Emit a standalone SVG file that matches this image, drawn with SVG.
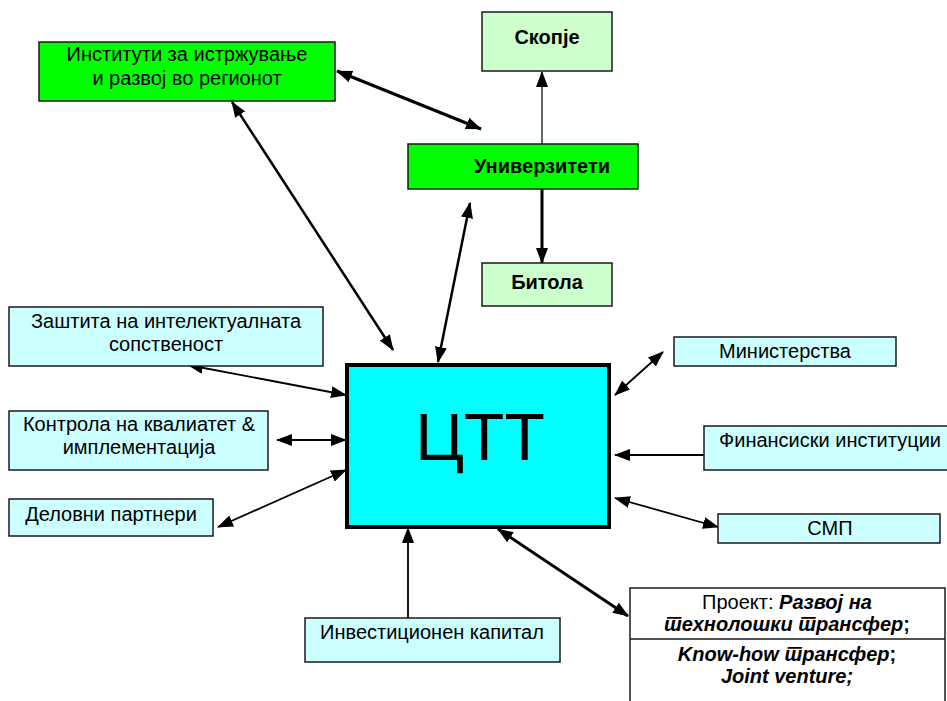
<svg xmlns="http://www.w3.org/2000/svg" width="947" height="701" viewBox="0 0 947 701">
<style>
.b{stroke:#1a1a1a;stroke-width:1.5}
.g{fill:#00ff00}.lg{fill:#ccffcc}.c{fill:#ccffff}
text{font-family:"Liberation Sans",Arial,sans-serif;fill:#000;text-anchor:middle}
.t{font-size:20px}
.bd{font-size:20px;font-weight:bold}
.bi{font-weight:bold;font-style:italic}
.ln{stroke:#000;fill:none}
</style>
<defs>
<marker id="a" markerUnits="userSpaceOnUse" viewBox="0 0 16 12" markerWidth="16" markerHeight="12" refX="15" refY="6" orient="auto-start-reverse">
<path d="M0,0 L16,6 L0,12 z" fill="#000"/>
</marker>
</defs>
<g id="connectors">
<line class="ln" x1="337" y1="71" x2="481" y2="129" stroke-width="3" marker-start="url(#a)" marker-end="url(#a)"/>
<line class="ln" x1="232" y1="102" x2="393" y2="350" stroke-width="2.5" marker-start="url(#a)" marker-end="url(#a)"/>
<line class="ln" x1="470" y1="203" x2="438" y2="362" stroke-width="2.5" marker-start="url(#a)" marker-end="url(#a)"/>
<line class="ln" x1="542" y1="144" x2="542" y2="72" stroke-width="1.2" marker-end="url(#a)"/>
<line class="ln" x1="542" y1="189" x2="542" y2="263" stroke-width="3" marker-end="url(#a)"/>
<line class="ln" x1="188" y1="365" x2="346" y2="395" stroke-width="1.8" marker-start="url(#a)" marker-end="url(#a)"/>
<line class="ln" x1="277" y1="440" x2="346" y2="440" stroke-width="2" marker-start="url(#a)" marker-end="url(#a)"/>
<line class="ln" x1="218" y1="527" x2="346" y2="470" stroke-width="1.8" marker-start="url(#a)" marker-end="url(#a)"/>
<line class="ln" x1="663" y1="352" x2="615" y2="395" stroke-width="1.8" marker-start="url(#a)" marker-end="url(#a)"/>
<line class="ln" x1="704" y1="455" x2="615" y2="455" stroke-width="1.8" marker-end="url(#a)"/>
<line class="ln" x1="615" y1="498" x2="718" y2="527" stroke-width="1.8" marker-start="url(#a)" marker-end="url(#a)"/>
<line class="ln" x1="408" y1="618" x2="408" y2="528" stroke-width="1.8" marker-end="url(#a)"/>
<line class="ln" x1="498" y1="529" x2="628" y2="616" stroke-width="3" marker-start="url(#a)" marker-end="url(#a)"/>
</g>
<g id="institutes">
<rect class="b g" x="39" y="42" width="296" height="59"/>
<text class="t" x="187" y="61">Институти за истржување</text>
<text class="t" x="187" y="85">и развој во регионот</text>
</g>
<g id="skopje">
<rect class="b lg" x="482" y="12" width="130" height="59"/>
<text class="bd" x="547" y="44">Скопје</text>
</g>
<g id="univerziteti">
<rect class="b g" x="408" y="144" width="230" height="45"/>
<text class="bd" x="542" y="173">Универзитети</text>
</g>
<g id="bitola">
<rect class="b lg" x="482" y="263" width="130" height="43"/>
<text class="bd" x="547" y="289">Битола</text>
</g>
<g id="ctt">
<rect x="347" y="365" width="262" height="162" fill="#00ffff" stroke="#000" stroke-width="4"/>
<text x="480" y="460" style="font-size:66px">ЦТТ</text>
</g>
<g id="zastita">
<rect class="b c" x="9" y="307" width="314" height="59"/>
<text class="t" x="166" y="328">Заштита на интелектуалната</text>
<text class="t" x="166" y="351">сопственост</text>
</g>
<g id="kontrola">
<rect class="b c" x="9" y="411" width="259" height="59"/>
<text class="t" x="139" y="431">Контрола на квалиатет &amp;</text>
<text class="t" x="139" y="454">имплементација</text>
</g>
<g id="delovni">
<rect class="b c" x="9" y="499" width="204" height="37"/>
<text class="t" x="111" y="521">Деловни партнери</text>
</g>
<g id="ministerstva">
<rect class="b c" x="674" y="337" width="222" height="29"/>
<text class="t" x="785" y="358">Министерства</text>
</g>
<g id="finansiski">
<rect class="b c" x="704" y="426" width="246" height="44"/>
<text class="t" x="830" y="447">Финансиски институции</text>
</g>
<g id="smp">
<rect class="b c" x="718" y="514" width="222" height="29"/>
<text class="t" x="830" y="535">СМП</text>
</g>
<g id="investicionen">
<rect class="b c" x="305" y="618" width="255" height="44"/>
<text class="t" x="432" y="639">Инвестиционен капитал</text>
</g>
<g id="proekt">
<rect x="630" y="588" width="315" height="130" fill="#fff" stroke="#1a1a1a" stroke-width="1.5"/>
<line x1="630" y1="639" x2="945" y2="639" stroke="#1a1a1a" stroke-width="1.5"/>
<text class="t" x="787" y="609" lang="mk">Проект: <tspan class="bi">Развој на</tspan></text>
<text class="t" x="787" y="631" lang="mk"><tspan class="bi">технолошки трансфер</tspan><tspan font-weight="bold">;</tspan></text>
<text class="t" x="787" y="661" lang="mk"><tspan class="bi">Know-how трансфер</tspan><tspan font-weight="bold">;</tspan></text>
<text class="t bi" x="787" y="683">Joint venture;</text>
</g>
</svg>
